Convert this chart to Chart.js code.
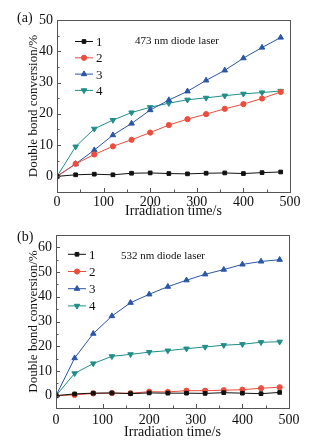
<!DOCTYPE html>
<html>
<head>
<meta charset="utf-8">
<script src="https://cdn.jsdelivr.net/npm/chart.js@4.4.1/dist/chart.umd.min.js"></script>
<style>
  body{margin:0;background:#fff;width:324px;height:441px;overflow:hidden;position:relative;}
  .box{position:absolute;left:0;width:324px;}
</style>
</head>
<body>
<div class="box" style="top:0;height:220px;"><canvas id="chartA"></canvas></div>
<div class="box" style="top:220px;height:221px;"><canvas id="chartB"></canvas></div>
<script>
////// data
const times = [0, 40, 80, 120, 160, 200, 240, 280, 320, 360, 400, 440, 480];
const seriesNames = ["1", "2", "3", "4"];

const a473_1 = [0, 0.5, 0.7, 0.5, 1.0, 1.1, 0.9, 0.8, 1.0, 1.1, 0.9, 1.2, 1.4];
const a473_2 = [0, 4.0, 7.0, 9.6, 11.7, 14.0, 16.4, 18.3, 19.9, 21.6, 23.1, 24.9, 27.0];
const a473_3 = [0, 4.0, 8.4, 13.2, 16.9, 21.2, 24.4, 27.2, 30.7, 33.9, 37.8, 41.2, 44.4];
const a473_4 = [0, 9.5, 15.2, 18.0, 20.4, 22.1, 23.4, 24.5, 25.1, 25.8, 26.4, 26.8, 27.3];

const b532_1 = [0, 0.7, 1.0, 1.1, 0.8, 1.1, 1.0, 1.0, 0.9, 1.2, 1.0, 0.8, 1.3];
const b532_2 = [0, 0.3, 0.9, 1.0, 1.0, 1.6, 1.5, 2.0, 2.0, 2.2, 2.4, 3.0, 3.4];
const b532_3 = [0, 15.2, 25.1, 32.2, 37.6, 41.0, 44.1, 46.7, 49.1, 51.0, 53.1, 54.3, 55.0];
const b532_4 = [0, 9.0, 13.0, 15.9, 16.7, 17.6, 18.2, 19.0, 19.7, 20.4, 20.8, 21.6, 21.8];

const xTicks = [0, 100, 200, 300, 400, 500];
const yTicksA = [0, 10, 20, 30, 40, 50];
const yTicksB = [0, 10, 20, 30, 40, 50, 60];

const colors = ["#111111", "#ec4d3c", "#2a56a6", "#1f8e88"];
const shapes = ["rect", "circle", "triangle", "triangle"];
const rotations = [0, 0, 0, 180];
const sizes = [2.6, 2.6, 3.2, 3.2];
const serif = "'Liberation Serif', 'DejaVu Serif', serif";

//////// frame, inner ticks, legend, labels
const framePlugin = {
  id: "frame",
  afterDraw(chart, args, opts) {
    const ctx = chart.ctx;
    const a = chart.chartArea;
    const xs = chart.scales.x, ys = chart.scales.y;
    ctx.save();
    ctx.strokeStyle = "#555";
    ctx.lineWidth = 1;
    ctx.strokeRect(a.left + 0.5, a.top + 0.5, a.right - a.left, a.bottom - a.top);
    ctx.beginPath();
    for (let v = xs.min; v <= xs.max; v += 50) {
      const px = Math.round(xs.getPixelForValue(v)) + 0.5;
      const len = v % 100 == 0 ? 4 : 2.5;
      ctx.moveTo(px, a.bottom); ctx.lineTo(px, a.bottom - len);
    }
    for (let v = 0; v <= ys.max; v += 5) {
      const py = Math.round(ys.getPixelForValue(v)) + 0.5;
      const len = v % 10 == 0 ? 4 : 2.5;
      ctx.moveTo(a.left, py); ctx.lineTo(a.left + len, py);
    }
    ctx.stroke();

    // legend
    chart.data.datasets.forEach((ds, i) => {
      const y = opts.legY + i * opts.legStep;
      ctx.strokeStyle = ds.borderColor;
      ctx.fillStyle = ds.backgroundColor;
      ctx.lineWidth = 1;
      ctx.beginPath();
      ctx.moveTo(opts.legX, y); ctx.lineTo(opts.legX + 18, y);
      ctx.stroke();
      Chart.helpers.drawPoint(ctx, {pointStyle: ds.pointStyle, radius: ds.pointRadius, rotation: ds.pointRotation, borderWidth: 1}, opts.legX + 9, y);
      ctx.fillStyle = "#111";
      ctx.font = "13px " + serif;
      ctx.textAlign = "left";
      ctx.textBaseline = "middle";
      ctx.fillText(ds.label, opts.legX + 21, y + 1);
    });
    ctx.fillStyle = "#111";
    ctx.font = "11px " + serif;
    ctx.textBaseline = "middle";
    ctx.fillText(opts.note, opts.noteX, opts.noteY);
    ctx.font = "14px " + serif;
    ctx.fillText(opts.panel, 17, opts.panelY);
    ctx.restore();
  }
};

function makeSets(list) {
  return list.map((vals, i) => ({
    label: seriesNames[i],
    data: times.map((t, j) => ({x: t, y: vals[j]})),
    borderColor: colors[i],
    backgroundColor: colors[i],
    pointBackgroundColor: colors[i],
    pointBorderColor: colors[i],
    pointStyle: shapes[i],
    pointRotation: rotations[i],
    pointRadius: sizes[i],
    borderWidth: 1,
    tension: 0
  }));
}

function makeChart(id, sets, yMax, yTicks, pad, frameOpts) {
  new Chart(document.getElementById(id), {
    type: "line",
    data: {datasets: makeSets(sets)},
    plugins: [framePlugin],
    options: {
      responsive: true,
      maintainAspectRatio: false,
      animation: false,
      layout: {padding: {top: pad.top, right: pad.right, left: 0, bottom: 0}},
      plugins: {legend: {display: false}, tooltip: {enabled: false}, frame: frameOpts},
      scales: {
        x: {
          type: "linear", min: 0, max: 500,
          afterBuildTicks: s => { s.ticks = xTicks.map(v => ({value: v})); },
          afterFit: s => { s.height = pad.xh; },
          grid: {display: false, drawTicks: false},
          border: {display: false},
          ticks: {color: "#111", padding: pad.xPad, font: {family: serif, size: 14}, maxRotation: 0},
          title: {display: true, text: "Irradiation time/s", color: "#111", padding: {top: 0, bottom: 0}, font: {family: serif, size: 14}}
        },
        y: {
          min: -5, max: yMax,
          afterBuildTicks: s => { s.ticks = yTicks.map(v => ({value: v})); },
          afterFit: s => { s.width = pad.left; },
          grid: {display: false, drawTicks: false},
          border: {display: false},
          ticks: {color: "#111", padding: 4, font: {family: serif, size: 14}},
          title: {display: true, text: "Double bond conversion/%", color: "#111", padding: {top: 26, bottom: 0}, font: {family: serif, size: 13}}
        }
      }
    }
  });
}

makeChart("chartA", [a473_1, a473_2, a473_3, a473_4], 50, yTicksA,
  {top: 20, right: 34, left: 57, xh: 28, xPad: 2},
  {legX: 75, legY: 41.5, legStep: 16.3, note: "473 nm diode laser", noteX: 135, noteY: 41, panel: "(a)", panelY: 18});
makeChart("chartB", [b532_1, b532_2, b532_3, b532_4], 65, yTicksB,
  {top: 15, right: 35, left: 56, xh: 33, xPad: 4},
  {legX: 68, legY: 34.3, legStep: 17.2, note: "532 nm diode laser", noteX: 121, noteY: 36, panel: "(b)", panelY: 17});
</script>
</body>
</html>
